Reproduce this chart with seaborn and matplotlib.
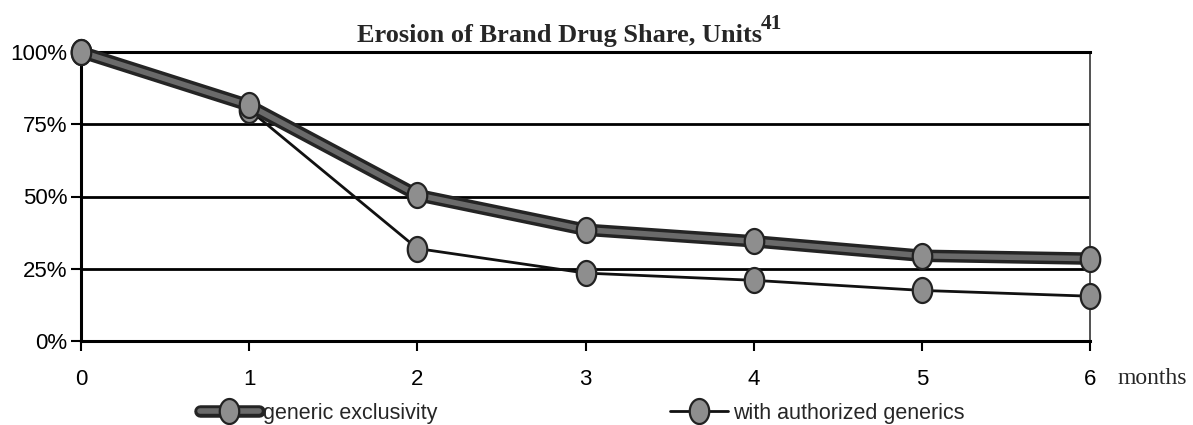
import numpy as np
import pandas as pd
import matplotlib
matplotlib.use("Agg")
import matplotlib.pyplot as plt
import matplotlib.ticker as mticker
from matplotlib.legend_handler import HandlerTuple
from matplotlib.path import Path
import seaborn as sns

# Données
mois = [0, 1, 2, 3, 4, 5, 6]
exclusivite = [100, 81.5, 50.5, 38.5, 34.5, 29.5, 28.5]
generiques_autorises = [100, 80, 32, 23.5, 21, 17.5, 15.5]
series = ["generic exclusivity", "with authorized generics"]

sns.set_theme(style="white")
plt.rcParams["font.family"] = ["Liberation Sans", "DejaVu Sans"]

# marqueur ovale (un peu plus haut que large)
t = np.linspace(0, 2 * np.pi, 60)
ovale = Path(np.column_stack([0.78 * np.cos(t), np.sin(t)]), closed=True)

W, H = 1193, 425
fig = plt.figure(figsize=(W / 100, H / 100), dpi=100)
ax = fig.add_axes([81 / W, 1 - 341 / H, (1090 - 81) / W, (341 - 52) / H])

style_marqueur = dict(marker=ovale, markersize=18, markerfacecolor="#8e8e8e",
                      markeredgecolor="#222222", markeredgewidth=1.6)

# série fine : ligne noire + marqueurs
sns.lineplot(x=mois, y=generiques_autorises, ax=ax, color="#111111", linewidth=2,
             zorder=3, **style_marqueur)
# série épaisse : contour sombre, intérieur gris, puis marqueurs
sns.lineplot(x=mois, y=exclusivite, ax=ax, color="#242424", linewidth=9, zorder=4)
sns.lineplot(x=mois, y=exclusivite, ax=ax, color="#6a6a6a", linewidth=4, zorder=4.1)
sns.lineplot(x=mois, y=exclusivite, ax=ax, linestyle="none", zorder=4.2, **style_marqueur)
for ln in ax.get_lines():
    ln.set_clip_on(False)
l_fine, l_fond, l_milieu, l_marq = ax.get_lines()[:4]

ax.set_xlim(0, 6)
ax.set_ylim(0, 100)
ax.set_xticks(mois)
ax.set_yticks([0, 25, 50, 75, 100])
ax.yaxis.set_major_formatter(mticker.FuncFormatter(lambda v, p: f"{v:.0f}%"))
ax.tick_params(axis="both", labelsize=16, colors="black")
ax.tick_params(axis="y", direction="out", length=7, width=1.5, left=True, pad=3)
ax.tick_params(axis="x", direction="out", length=7, width=1.5, bottom=True, pad=13)

ax.yaxis.grid(True, color="black", linewidth=2)
ax.set_axisbelow(True)
for s in ["left", "bottom", "top"]:
    ax.spines[s].set_color("black")
    ax.spines[s].set_linewidth(2.2)
ax.spines["right"].set_color("#444444")
ax.spines["right"].set_linewidth(1.3)

# titre (avec appel de note en exposant) et libellé "months"
titre = fig.text(357 / W, 1 - 42 / H, "Erosion of Brand Drug Share, Units",
                 fontsize=19, fontweight="bold", family="Liberation Serif",
                 ha="left", va="baseline")
fig.canvas.draw()
x_fin = titre.get_window_extent().x1
fig.text(x_fin / W - 1 / W, 1 - 29 / H, "41", fontsize=15.5, fontweight="bold",
         family="Liberation Serif", ha="left", va="baseline")
fig.text(1118 / W, 1 - 378 / H, "months", fontsize=17,
         family="Liberation Serif", ha="left", va="center")

fig.legend([(l_fond, l_milieu, l_marq), l_fine], series,
           handler_map={tuple: HandlerTuple(ndivide=1)},
           loc="center left", bbox_to_anchor=(181 / W, 1 - 413 / H),
           ncol=2, frameon=False, fontsize=15.5, columnspacing=10.8,
           handlelength=2.7, handletextpad=0.23, borderpad=0.4)

fig.savefig("out.png", dpi=100)
